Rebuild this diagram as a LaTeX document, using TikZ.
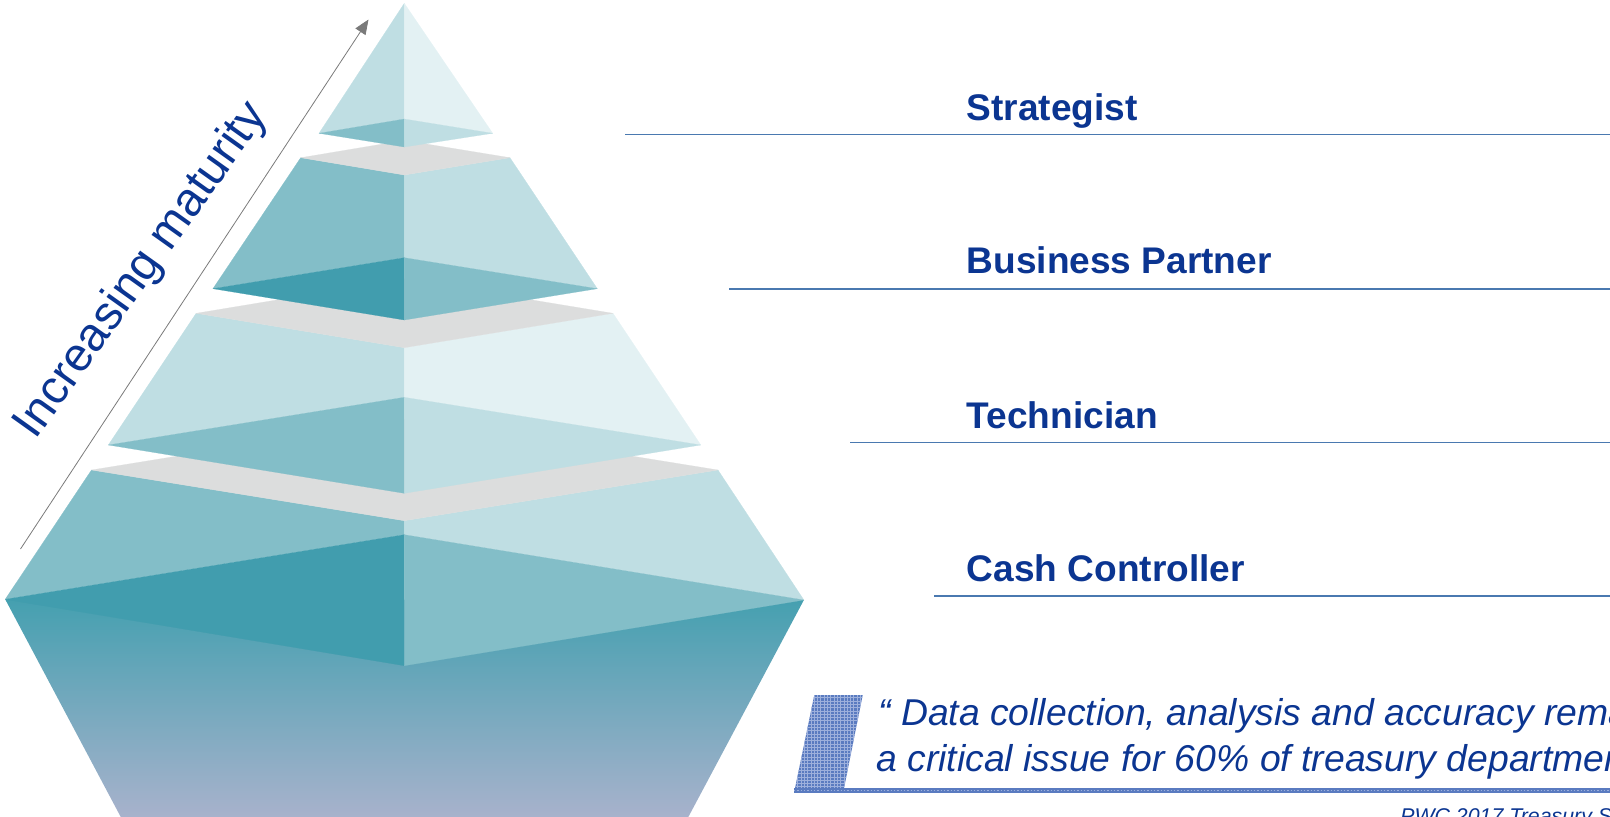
\documentclass[tikz,border=0pt]{standalone}
\usepackage{fontspec}
\setmainfont{Liberation Sans}
\usetikzlibrary{arrows.meta}
\definecolor{pL}{HTML}{E3F1F3}
\definecolor{pM}{HTML}{BFDEE3}
\definecolor{pD}{HTML}{83BEC8}
\definecolor{pX}{HTML}{419DAE}
\definecolor{pG}{HTML}{DCDDDD}
\definecolor{navy}{HTML}{0B3591}
\definecolor{rulec}{HTML}{4A79B0}
\definecolor{gtop}{HTML}{45A0B0}
\definecolor{gbot}{HTML}{A8B2CC}
\definecolor{hatch}{HTML}{5A7BC0}
\definecolor{hatchl}{HTML}{9DB0DC}
\definecolor{arrowc}{HTML}{7A7A7A}
\tikzset{
  face/.style={fill=#1,draw=#1,line width=0.15pt,line join=round},
  lbl/.style={anchor=base west,inner sep=0pt,text=navy,font=\fontsize{27.8}{34}\selectfont\bfseries},
  quote/.style={anchor=base west,inner sep=0pt,text=navy,font=\fontsize{28}{34}\selectfont\itshape},
  rulel/.style={draw=rulec,line width=1.1pt},
}
\begin{document}
\begin{tikzpicture}[x=0.75pt,y=-0.75pt]
\useasboundingbox (0,0) rectangle (1610,817);
\clip (0,0) rectangle (1610,817);

% ---------- base with gradient ----------
\shade[top color=gtop,bottom color=gbot] (5.2,599.3) -- (803.9,600) -- (687.8,818) -- (121.3,818) -- cycle;

% ---------- layer 4 : Cash Controller ----------
\path[face=pD] (91.5,470) -- (404.3,520.7) -- (404.3,534.7) -- (5.2,599.3) -- cycle;
\path[face=pM] (404.3,520.7) -- (718,470) -- (803.9,600) -- (404.3,534.7) -- cycle;
\path[face=pX] (5.2,599.3) -- (404.3,534.7) -- (404.3,665.7) -- cycle;
\path[face=pD] (404.3,534.7) -- (803.9,600) -- (404.3,665.7) -- cycle;
\path[face=pG] (91.5,470) -- (404.3,419.3) -- (718,470) -- (404.3,520.7) -- cycle;

% ---------- layer 3 : Technician ----------
\path[face=pM] (196.1,313.3) -- (404.3,347.7) -- (404.3,397.3) -- (108.3,445) -- cycle;
\path[face=pL] (404.3,347.7) -- (613,313.3) -- (700.8,445) -- (404.3,397.3) -- cycle;
\path[face=pD] (108.3,445) -- (404.3,397.3) -- (404.3,493.3) -- cycle;
\path[face=pM] (404.3,397.3) -- (700.8,445) -- (404.3,493.3) -- cycle;
\path[face=pG] (196.1,313.3) -- (404.3,278.9) -- (613,313.3) -- (404.3,347.7) -- cycle;

% ---------- layer 2 : Business Partner ----------
\path[face=pD] (300.7,157.7) -- (404.3,175) -- (404.3,257.7) -- (212.9,288.7) -- cycle;
\path[face=pM] (404.3,175) -- (510,157.7) -- (597.3,288.7) -- (404.3,257.7) -- cycle;
\path[face=pX] (212.9,288.7) -- (404.3,257.7) -- (404.3,320) -- cycle;
\path[face=pD] (404.3,257.7) -- (597.3,288.7) -- (404.3,320) -- cycle;
\path[face=pG] (300.7,157.7) -- (404.3,140.4) -- (510,157.7) -- (404.3,175) -- cycle;

% ---------- layer 1 : Strategist ----------
\path[face=pM] (404.3,3.3) -- (404.3,119) -- (319,133.3) -- cycle;
\path[face=pL] (404.3,3.3) -- (492.7,133.3) -- (404.3,119) -- cycle;
\path[face=pD] (319,133.3) -- (404.3,119) -- (404.3,147) -- cycle;
\path[face=pM] (404.3,119) -- (492.7,133.3) -- (404.3,147) -- cycle;

% ---------- maturity arrow ----------
\coordinate (arrS) at (20.5,549);
\coordinate (arrE) at (368.5,19.5);
\draw[arrowc,line width=0.6pt,-{Triangle[length=11pt,width=9pt]}] (arrS) -- (arrE);
\node[rotate=54.5,inner sep=0pt,text=navy,font=\fontsize{35.5}{42}\selectfont] (mat) at (142,271) {Increasing maturity};

% ---------- level labels and rules ----------
\node[lbl] (l1) at (966.5,120.7) {Strategist};
\node[lbl] (l2) at (966.5,273.3) {Business Partner};
\node[lbl] (l3) at (966.5,428.3) {Technician};
\node[lbl] (l4) at (966.5,581.7) {Cash Controller};
\coordinate (r1a) at (625,134.5);  \coordinate (r1b) at (1610,134.5);
\coordinate (r2a) at (729,289);    \coordinate (r2b) at (1610,289);
\coordinate (r3a) at (850,442.5);  \coordinate (r3b) at (1610,442.5);
\coordinate (r4a) at (934,596);    \coordinate (r4b) at (1610,596);
\draw[rulel] (r1a) -- (r1b);
\draw[rulel] (r2a) -- (r2b);
\draw[rulel] (r3a) -- (r3b);
\draw[rulel] (r4a) -- (r4b);

% ---------- quote decoration ----------
\begin{scope}
  \clip (814.3,695) -- (862.7,695) -- (844,788.3) -- (795,788.3) -- cycle;
  \fill[hatch] (790,690) rectangle (870,795);
  \foreach \gx in {791,794.3,...,870} \draw[hatchl,line width=0.4pt] (\gx,690) -- (\gx,795);
  \foreach \gy in {691,694.3,...,795} \draw[hatchl,line width=0.4pt] (790,\gy) -- (870,\gy);
\end{scope}
\fill[hatch] (794,788) rectangle (1610,792.6);
\draw[hatchl,line width=0.6pt,dash pattern=on 1pt off 1.5pt] (794,790.3) -- (1610,790.3);

% ---------- quote ----------
\node[quote] (q1) at (878,725) {“ Data collection, analysis and accuracy remains};
\node[quote] (q2) at (876,771.5) {a critical issue for 60\% of treasury departments};
\node[anchor=base west,inner sep=0pt,text=navy,font=\fontsize{16}{19}\selectfont\itshape] (src) at (1400,823) {PWC 2017 Treasury Survey};
\end{tikzpicture}
\end{document}
